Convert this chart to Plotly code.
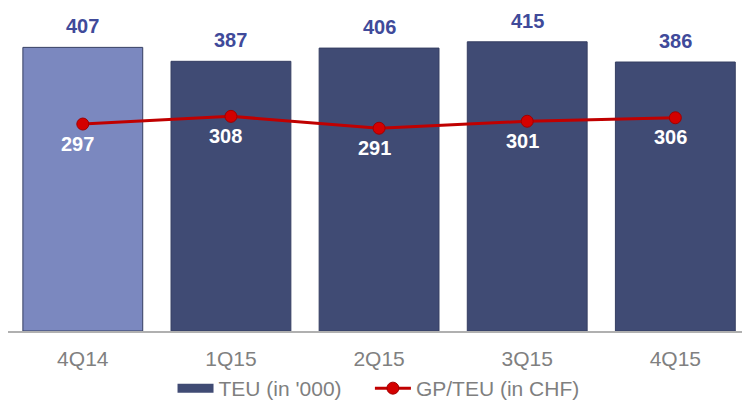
import plotly.graph_objects as go

categories = ["4Q14", "1Q15", "2Q15", "3Q15", "4Q15"]
teu = [407, 387, 406, 415, 386]
gp_per_teu = [297, 308, 291, 301, 306]
bar_colors = ["#7B88BF", "#404B74", "#404B74", "#404B74", "#404B74"]

FONT = "Liberation Sans"
fig = go.Figure()
fig.add_trace(go.Bar(
    x=categories, y=teu, name="TEU (in '000)", showlegend=False,
    marker=dict(color=bar_colors, line=dict(color="#353E62", width=1)),
))
# legend-only entry drawn as a wide rectangle like the reference
fig.add_trace(go.Scatter(
    x=[None], y=[None], name="TEU (in '000)\u00a0\u00a0\u00a0\u00a0", mode="lines",
    line=dict(color="#404B74", width=9),
))
fig.add_trace(go.Scatter(
    x=categories, y=gp_per_teu, name="GP/TEU (in CHF)",
    mode="lines+markers",
    line=dict(color="#C00000", width=3),
    marker=dict(color="#D40000", size=12, line=dict(color="#A00000", width=1)),
    cliponaxis=False,
))

annotations = []
for c, v in zip(categories, teu):
    annotations.append(dict(x=c, y=v, xref="x", yref="y", text=f"<b>{v}</b>",
                            showarrow=False, yanchor="middle", yshift=21,
                            font=dict(family=FONT, size=20, color="#404A9A")))
for c, v in zip(categories, gp_per_teu):
    annotations.append(dict(x=c, y=v, xref="x", yref="y", text=f"<b>{v}</b>",
                            showarrow=False, yanchor="middle", yshift=-19.5, xshift=-5,
                            font=dict(family=FONT, size=20, color="white")))

H = 409
fig.update_layout(
    width=742, height=H,
    margin=dict(l=8, r=0, t=0, b=0),
    paper_bgcolor="white", plot_bgcolor="white",
    bargap=0.191,
    font=dict(family=FONT, color="#7F7F7F"),
    xaxis=dict(range=[-0.505, 4.45], showline=True, linecolor="#B0B0B0", linewidth=2,
               tickfont=dict(family=FONT, size=21, color="#808080"), ticks="",
               ticklabelstandoff=8, showgrid=False, fixedrange=True, automargin=False),
    yaxis=dict(range=[0, 475], visible=False, showgrid=False, zeroline=False,
               domain=[(H - 331) / H, 1], fixedrange=True),
    legend=dict(orientation="h", x=0.5048, xanchor="center",
                y=0, yanchor="bottom",
                font=dict(family=FONT, size=21, color="#7F7F7F"), itemwidth=36,
                bgcolor="rgba(0,0,0,0)"),
    annotations=annotations,
    showlegend=True,
)
fig.write_html("out.html", config={"displayModeBar": False},
               post_script="document.body.style.margin='0';")
